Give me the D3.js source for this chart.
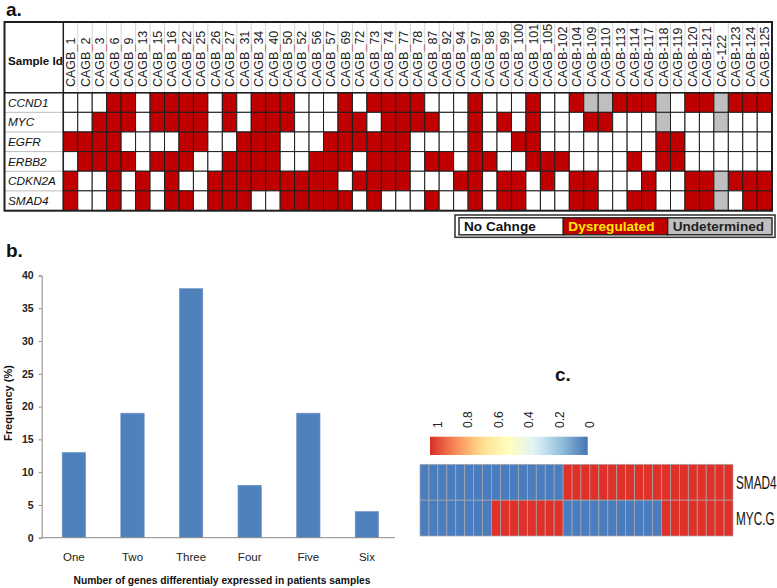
<!DOCTYPE html>
<html><head><meta charset="utf-8">
<script src="https://cdn.jsdelivr.net/npm/d3@7"></script>
<style>body{margin:0;background:#fff} svg{display:block}</style>
</head><body><svg id="chart" width="777" height="588"></svg>
<script>
// ---------- Panel a data ----------
const samples = ["CAGB_1","CAGB_2","CAGB_3","CAGB_6","CAGB_9","CAGB_13","CAGB_15","CAGB_16","CAGB_22","CAGB_25",
  "CAGB_26","CAGB_27","CAGB_31","CAGB_34","CAGB_40","CAGB_50","CAGB_52","CAGB_56","CAGB_57","CAGB_69",
  "CAGB_72","CAGB_73","CAGB_74","CAGB_77","CAGB_78","CAGB_87","CAGB_92","CAGB_94","CAGB_97","CAGB_98",
  "CAGB_99","CAGB_100","CAGB_101","CAGB_105","CAGB-102","CAGB-104","CAGB-109","CAGB-110","CAGB-113","CAGB-114",
  "CAGB-117","CAGB-118","CAGB-119","CAGB-120","CAGB-121","CAG-122","CAGB-123","CAGB-124","CAGB-125"];
const genes = ["CCND1","MYC","EGFR","ERBB2","CDKN2A","SMAD4"];
// 0 = No change, 1 = Dysregulated, 2 = Undetermined
const CCND1  = [0,0,0,1,1,0,1,1,1,1, 0,1,0,1,1,1,0,0,0,1, 0,1,1,1,1,0,0,0,1,0, 0,0,1,0,0,1,2,2,1,1, 1,2,0,1,1,2,1,1,1];
const MYC    = [0,0,1,1,1,0,1,1,1,1, 0,1,0,1,1,1,0,0,0,1, 1,0,1,1,1,1,0,0,1,0, 1,0,1,0,0,0,1,1,0,0, 0,2,0,0,0,2,0,0,0];
const EGFR   = [1,1,1,1,0,0,0,0,1,1, 0,0,1,1,1,0,0,0,1,1, 1,1,1,1,0,0,0,0,1,0, 0,1,1,0,0,0,0,0,0,0, 0,1,1,0,0,0,0,0,0];
const ERBB2  = [0,1,1,1,1,0,1,1,1,0, 0,1,1,1,1,0,0,1,1,1, 0,1,1,1,0,1,1,0,1,1, 0,0,1,1,1,0,0,0,0,1, 0,1,1,0,0,0,0,0,0];
const CDKN2A = [1,0,0,1,0,1,0,1,0,0, 1,1,1,1,1,1,1,1,1,0, 1,1,1,1,0,0,0,1,1,0, 1,1,0,1,0,1,1,0,0,0, 1,0,0,1,1,2,1,1,1];
const SMAD4  = [1,0,0,1,0,1,0,1,1,0, 1,1,1,0,0,1,1,1,1,1, 0,1,0,0,0,1,0,0,1,0, 1,1,0,0,0,1,1,0,0,1, 1,0,0,1,1,2,0,1,1];
const statusLabels = ["No Cahnge","Dysregulated","Undetermined"];

// ---------- Panel b data ----------
const freqCategories = ["One","Two","Three","Four","Five","Six"];
const freqValues = [13,19,38,8,19,4];
const freqTicks = [0,5,10,15,20,25,30,35,40];

// ---------- Panel c data ----------
const hmRows = ["SMAD4","MYC.G"];
const hmSMAD4 = [0,0,0,0,0,0,0,0,0,0,0,0,0,0,0,0,1,1,1,1,1,1,1,1,1,1,1,1,1,1,1,1,1,1,1];
const hmMYCG  = [0,0,0,0,0,0,0,0,1,1,1,1,1,1,1,1,0,0,0,0,0,0,0,0,0,0,0,1,1,1,1,1,1,1,1];
const legendTicks = [1,0.8,0.6,0.4,0.2,0];

const FONT = "'Liberation Sans', Arial, Helvetica, sans-serif";
const svg = d3.select("#chart").style("font-family", FONT);

// ================= Panel a =================
const matrix = {CCND1, MYC, EGFR, ERBB2, CDKN2A, SMAD4};
const xA = d3.scaleBand().domain(samples).range([63.3, 771.7]);
const yA = d3.scaleBand().domain(genes).range([92.7, 210.5]);
const statusColor = d3.scaleOrdinal().domain([0,1,2]).range(["#FFFFFF","#C00000","#BFBFBF"]);
const gA = svg.append("g");

svg.append("text").attr("x", 6).attr("y", 16).attr("font-size", 19).attr("font-weight", "bold").attr("fill","#111").text("a.");

// header separators
gA.selectAll("line.hsep").data(samples.slice(1)).join("line")
  .attr("x1", d => xA(d)).attr("x2", d => xA(d)).attr("y1", 22).attr("y2", 92.7)
  .attr("stroke", "#d4d4d4").attr("stroke-width", 1);
// row label separators
gA.selectAll("line.rsep").data(genes.slice(1)).join("line")
  .attr("x1", 4.5).attr("x2", 63.3).attr("y1", d => yA(d)).attr("y2", d => yA(d))
  .attr("stroke", "#bdbdbd").attr("stroke-width", 1);

// cells
const cellData = [];
genes.forEach(g => matrix[g].forEach((v, i) => cellData.push({g, s: samples[i], v})));
gA.selectAll("rect.cell").data(cellData).join("rect")
  .attr("x", d => xA(d.s)).attr("y", d => yA(d.g))
  .attr("width", xA.bandwidth()).attr("height", yA.bandwidth())
  .attr("fill", d => statusColor(d.v)).attr("stroke", "#1e1e1e").attr("stroke-width", 1);

// header labels
const hl = gA.selectAll("text.hl").data(samples).join("text")
  .attr("transform", d => `translate(${xA(d) + xA.bandwidth()/2 + 4.6},87) rotate(-90)`)
  .attr("font-size", 12.5).attr("fill", "#222");
hl.each(function(d) {
  const t = d3.select(this);
  const parts = d.split("_");
  if (parts.length === 2) {
    t.append("tspan").text(parts[0]);
    t.append("tspan").attr("fill", "#b06060").text("_");
    t.append("tspan").text(parts[1]);
  } else t.text(d);
});

// gene labels
gA.selectAll("text.gl").data(genes).join("text")
  .attr("x", 8).attr("y", d => yA(d) + yA.bandwidth()/2 + 4.3)
  .attr("font-size", 11.8).attr("font-style", "italic").attr("fill", "#111").text(d => d);
gA.append("text").attr("x", 8).attr("y", 64.5).attr("font-size", 11.6).attr("font-weight", "bold")
  .attr("fill", "#111").text("Sample Id");

// lines
gA.append("line").attr("x1", 4.5).attr("x2", 771.7).attr("y1", 92.7).attr("y2", 92.7).attr("stroke", "#1e1e1e").attr("stroke-width", 1.5);
gA.append("line").attr("x1", 63.3).attr("x2", 63.3).attr("y1", 22).attr("y2", 210.5).attr("stroke", "#1e1e1e").attr("stroke-width", 1.5);
gA.append("rect").attr("x", 4.5).attr("y", 22).attr("width", 767.5).attr("height", 188.7)
  .attr("fill", "none").attr("stroke", "#1e1e1e").attr("stroke-width", 2);

// legend a
const legX = d3.scaleBand().domain(statusLabels).range([459, 772]);
const legCols = {"No Cahnge": ["#FFFFFF", "#111"], "Dysregulated": ["#C00000", "#FFEA00"], "Undetermined": ["#BFBFBF", "#222"]};
const gL = svg.append("g");
gL.append("rect").attr("x", 455).attr("y", 215).attr("width", 320).attr("height", 22.3)
  .attr("fill", "#fff").attr("stroke", "#3a3a3a").attr("stroke-width", 1.6);
gL.selectAll("rect.li").data(statusLabels).join("rect")
  .attr("x", d => legX(d)).attr("y", 217.8).attr("width", legX.bandwidth()).attr("height", 17)
  .attr("fill", d => legCols[d][0]).attr("stroke", "#222").attr("stroke-width", 1.4);
gL.selectAll("text.lt").data(statusLabels).join("text")
  .attr("x", d => legX(d) + 5).attr("y", 231)
  .attr("font-size", 13.6).attr("font-weight", "bold").attr("fill", d => legCols[d][1]).text(d => d);

// ================= Panel b =================
svg.append("text").attr("x", 6).attr("y", 257).attr("font-size", 19).attr("font-weight", "bold").attr("fill","#111").text("b.");
const xB = d3.scaleBand().domain(freqCategories).range([44.6, 396.2]);
const yB = d3.scaleLinear().domain([0, 40]).range([537.7, 275.5]);
const gB = svg.append("g");
const barW = xB.bandwidth() * 0.4;
gB.selectAll("rect.bar").data(freqCategories).join("rect")
  .attr("x", (d) => xB(d) + xB.bandwidth()/2 - barW/2)
  .attr("y", (d, i) => yB(freqValues[i]))
  .attr("width", barW).attr("height", (d, i) => yB(0) - yB(freqValues[i]))
  .attr("fill", "#4F81BD").attr("stroke", "#6f97c8").attr("stroke-width", 0.6);

const yAxis = gB.append("g").attr("transform", "translate(41.7,0)")
  .call(d3.axisLeft(yB).tickValues(freqTicks).tickSize(3).tickPadding(5));
yAxis.select(".domain").attr("stroke", "#8a8a8a");
yAxis.selectAll(".tick line").attr("stroke", "#8a8a8a");
yAxis.selectAll(".tick text").attr("font-size", 10.5).attr("font-weight", "bold").attr("fill", "#222").attr("font-family", FONT);

const xAxis = gB.append("g").attr("transform", "translate(0,537.7)")
  .call(d3.axisBottom(xB).tickSize(0).tickPadding(15));
xAxis.select(".domain").attr("d", "M41.7,0H395").attr("stroke", "#8a8a8a");
xAxis.selectAll(".tick text").attr("font-size", 11.5).attr("fill", "#222").attr("font-family", FONT);

gB.append("text").attr("transform", "translate(12,403) rotate(-90)").attr("text-anchor", "middle")
  .attr("font-size", 11).attr("font-weight", "bold").attr("fill", "#111").text("Frequency (%)");
gB.append("text").attr("x", 222).attr("y", 583.5).attr("text-anchor", "middle")
  .attr("font-size", 10.5).attr("font-weight", "bold").attr("fill", "#111")
  .attr("textLength", 297).attr("lengthAdjust", "spacingAndGlyphs")
  .text("Number of genes differentialy expressed in patients samples");

// ================= Panel c =================
svg.append("text").attr("x", 555).attr("y", 381).attr("font-size", 19).attr("font-weight", "bold").attr("fill","#111").text("c.");
const hmData = {"SMAD4": hmSMAD4, "MYC.G": hmMYCG};
const cols = d3.range(hmSMAD4.length);
const xC = d3.scaleBand().domain(cols).range([420, 733]);
const yC = d3.scaleBand().domain(hmRows).range([464.3, 536]);
const heat = d3.scaleLinear().domain([0, 1/6, 2/6, 3/6, 4/6, 5/6, 1])
  .range(["#4575B4","#91BFDB","#E0F3F8","#FFFFBF","#FEE090","#FC8D59","#D73027"]);
const hmColor = d => d === 1 ? "#E0302A" : "#4A7DBF";
const gC = svg.append("g");
const hmCells = [];
hmRows.forEach(r => hmData[r].forEach((v, i) => hmCells.push({r, i, v})));
gC.selectAll("rect.hc").data(hmCells).join("rect")
  .attr("x", d => xC(d.i)).attr("y", d => yC(d.r))
  .attr("width", xC.bandwidth()).attr("height", yC.bandwidth())
  .attr("fill", d => hmColor(d.v)).attr("stroke", "#a9a9a9").attr("stroke-width", 0.7);
gC.selectAll("text.rl").data(hmRows).join("text")
  .attr("transform", d => `translate(736,${yC(d) + yC.bandwidth()/2 + 7}) scale(0.62,1)`)
  .attr("font-size", 19).attr("fill", "#111").text(d => d);

// colour legend
const xLeg = d3.scaleLinear().domain([1, 0]).range([438, 590]);
const defs = svg.append("defs");
const grad = defs.append("linearGradient").attr("id", "lg").attr("x1", "0%").attr("x2", "100%");
d3.range(0, 1.0001, 0.05).forEach(t => grad.append("stop").attr("offset", (t*100) + "%").attr("stop-color", heat(1 - t)));
gC.append("rect").attr("x", 430).attr("y", 436.7).attr("width", 157.7).attr("height", 18.3).attr("fill", "url(#lg)");
gC.selectAll("text.lgt").data(legendTicks).join("text")
  .attr("transform", d => `translate(${xLeg(d) + 4},428) rotate(-90)`)
  .attr("font-size", 12).attr("fill", "#222").text(d => d);
</script></body></html>
